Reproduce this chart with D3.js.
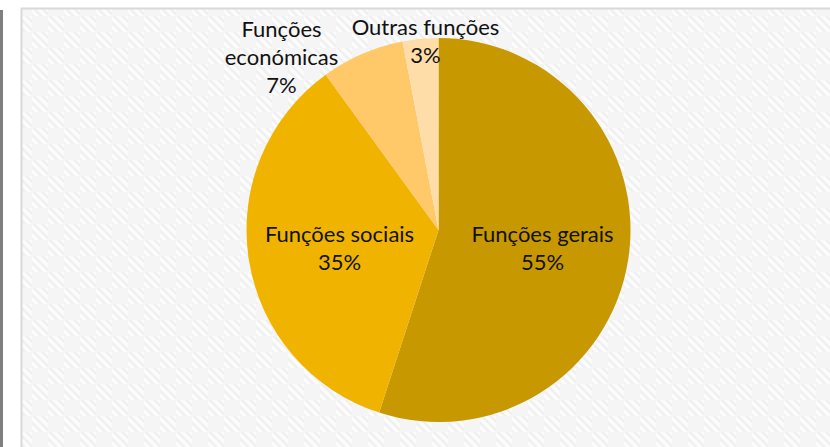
<!DOCTYPE html>
<html>
<head>
<meta charset="utf-8">
<script src="https://cdn.jsdelivr.net/npm/d3@7"></script>
<style>
  body { margin: 0; background: #fff; }
  svg { display: block; }
  text { font-family: Lato, "Open Sans", sans-serif; fill: #111; }
</style>
</head>
<body>
<script>
// data
var categories = ["Funções gerais", "Funções sociais", "Funções económicas", "Outras funções"];
var values = [55, 35, 7, 3];
var colors = ["#C89800", "#F0B400", "#FFC869", "#FFDDA8"];

// label lines for each slice
var labelLines = [
  ["Funções gerais", "55%"],
  ["Funções sociais", "35%"],
  ["Funções", "económicas", "7%"],
  ["Outras funções", "3%"]
];

var width = 830,
    height = 447;

var svg = d3.select("body").append("svg")
    .attr("width", width)
    .attr("height", height);

// hatched background pattern
var defs = svg.append("defs");
var pat = defs.append("pattern")
    .attr("id", "bg")
    .attr("patternUnits", "userSpaceOnUse")
    .attr("width", 32)
    .attr("height", 32);
pat.append("rect").attr("width", 32).attr("height", 32).attr("fill", "#fbfbfb");
var stripe = defs.append("pattern")
    .attr("id", "stripe")
    .attr("patternUnits", "userSpaceOnUse")
    .attr("width", 6)
    .attr("height", 6)
    .attr("patternTransform", "rotate(-45)");
stripe.append("rect").attr("width", 6).attr("height", 6).attr("fill", "#fcfcfc");
stripe.append("rect").attr("width", 2.5).attr("height", 6).attr("fill", "#efefef");
pat.append("rect").attr("width", 16).attr("height", 16).attr("fill", "url(#stripe)");
pat.append("rect").attr("x", 16).attr("y", 16).attr("width", 16).attr("height", 16).attr("fill", "url(#stripe)");
pat.append("rect").attr("x", 16).attr("width", 16).attr("height", 16).attr("fill", "#f5f5f5");
pat.append("rect").attr("y", 16).attr("width", 16).attr("height", 16).attr("fill", "#f5f5f5");

// dark edge at left
svg.append("rect")
    .attr("x", 0).attr("y", 10)
    .attr("width", 3).attr("height", height - 10)
    .attr("fill", "#7f7f7f");

// chart frame
svg.append("rect")
    .attr("x", 21.5).attr("y", 8.5)
    .attr("width", width + 10).attr("height", height + 10)
    .attr("fill", "url(#bg)")
    .attr("stroke", "#d9d9d9")
    .attr("stroke-width", 2);

// pie
var cx = 438.5, cy = 230, r = 192;

var pie = d3.pie().sort(null).value(function(d){ return d; });
var arc = d3.arc().innerRadius(0).outerRadius(r);

var g = svg.append("g").attr("transform", "translate(" + cx + "," + cy + ")");

var arcs = pie(values);

g.selectAll(".slice")
  .data(arcs)
  .enter().append("path")
    .attr("class", "slice")
    .attr("d", arc)
    .attr("fill", function(d, i){ return colors[i]; });

// label positions (relative to centre)
var labelPos = [
  [104, 12],
  [-99, 12],
  [-157, -193],
  [-13, -195]
];

var lh = 28;
svg.selectAll(".lbl")
  .data(arcs)
  .enter().append("text")
    .attr("class", "lbl")
    .attr("text-anchor", "middle")
    .attr("font-size", 22)
    .attr("x", function(d, i){ return cx + labelPos[i][0]; })
    .attr("y", function(d, i){ return cy + labelPos[i][1]; })
    .each(function(d, i){
      var t = d3.select(this);
      labelLines[i].forEach(function(line, k){
        t.append("tspan")
          .attr("x", cx + labelPos[i][0])
          .attr("dy", k === 0 ? 0 : lh)
          .text(line);
      });
    });
</script>
</body>
</html>
